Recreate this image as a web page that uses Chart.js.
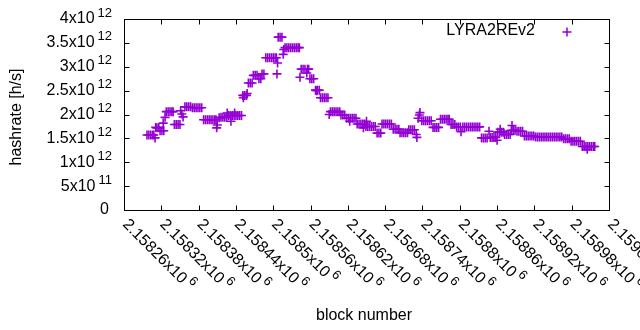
<!DOCTYPE html>
<html><head><meta charset="utf-8">
<script src="https://cdn.jsdelivr.net/npm/chart.js@4/dist/chart.umd.min.js"></script>
<style>html,body{margin:0;padding:0;background:#fff}canvas{display:block}</style>
</head><body>
<canvas id="c" width="640" height="330"></canvas>
<script>
const seriesLabel = "LYRA2REv2";
const xTitle = "block number";
const yTitle = "hashrate [h/s]";

const blocks = [
  2158297,2158300,2158303,2158306,2158308,2158310,
  2158311,2158313,2158316,
  2158318,2158321,2158324,
  2158323,2158326,
  2158328,2158331,2158334,2158337,2158339,
  2158341,2158344,2158347,2158350,
  2158351,2158353,2158355,
  2158358,2158361,2158364,2158367,2158370,2158373,2158376,2158379,2158382,2158385,
  2158388,2158391,2158394,2158397,2158400,2158403,2158406,2158408,
  2158409,2158410,
  2158413,2158416,2158419,2158422,2158425,
  2158426,2158428,2158431,2158432,2158434,2158437,2158438,2158440,2158443,2158446,2158449,
  2158451,2158452,2158454,2158457,2158458,
  2158460,2158463,2158466,
  2158468,2158471,2158474,
  2158477,2158480,
  2158482,2158485,
  2158488,2158491,2158494,2158497,2158500,2158503,2158505,
  2158506,2158507,
  2158508,2158511,2158514,
  2158516,2158517,
  2158519,2158522,2158525,2158528,2158531,2158534,2158537,2158540,2158542,
  2158543,
  2158545,2158548,2158551,2158554,2158555,2158557,
  2158559,2158562,2158565,
  2158568,2158570,2158571,2158574,
  2158576,2158579,2158582,2158585,2158588,
  2158590,2158592,2158595,2158598,2158601,2158604,2158607,
  2158609,2158612,2158615,
  2158618,2158621,2158623,2158624,2158627,2158630,2158633,
  2158635,2158638,2158641,2158644,2158645,2158647,
  2158649,2158650,2158652,2158655,2158658,2158661,2158664,
  2158667,2158670,2158673,
  2158675,2158678,2158681,2158684,2158687,2158690,
  2158693,2158696,2158699,2158702,
  2158704,2158707,2158710,2158713,2158716,
  2158718,2158721,2158724,2158727,
  2158730,2158731,2158733,2158735,2158736,
  2158739,2158742,2158745,2158748,2158751,2158754,
  2158757,2158760,2158763,2158766,
  2158769,2158772,2158775,2158778,2158781,2158783,
  2158786,2158789,2158792,
  2158795,2158798,2158801,2158802,
  2158805,2158808,2158811,2158814,2158817,2158820,2158823,2158826,2158829,2158832,
  2158835,2158838,2158841,2158844,
  2158847,
  2158849,2158852,2158855,2158858,2158860,
  2158861,2158864,2158865,2158867,2158870,
  2158872,2158875,2158878,2158881,
  2158883,2158884,2158886,2158889,
  2158892,2158895,2158898,2158901,
  2158904,2158907,2158910,2158913,2158916,2158919,
  2158922,2158925,2158928,2158931,2158934,2158937,2158940,2158943,2158946,2158949,2158952,2158955,2158958,2158961,2158964,
  2158967,2158970,2158973,2158976,
  2158979,2158982,2158985,2158988,2158991,2158994,
  2158997,2159000,2159003,2159005,2159006,2159009,2159012,2159015,2159017
];

const hashrate = [
  1.57e12,1.57e12,1.57e12,1.57e12,1.57e12,1.51e12,
  1.73e12,1.72e12,1.72e12,
  1.66e12,1.66e12,1.66e12,
  1.82e12,1.94e12,
  2.06e12,2.06e12,2.06e12,2.06e12,2.06e12,
  1.79e12,1.79e12,1.79e12,1.79e12,
  2.08e12,2.01e12,1.95e12,
  2.16e12,2.16e12,2.16e12,2.16e12,2.14e12,2.14e12,2.14e12,2.14e12,2.14e12,2.14e12,
  1.89e12,1.89e12,1.89e12,1.89e12,1.89e12,1.89e12,1.89e12,1.89e12,
  1.72e12,1.78e12,
  1.93e12,1.94e12,1.94e12,1.94e12,1.94e12,
  2.03e12,1.98e12,1.98e12,1.86e12,1.98e12,1.98e12,2.03e12,1.98e12,1.98e12,1.98e12,1.98e12,
  2.40e12,2.35e12,2.40e12,2.40e12,2.44e12,
  2.66e12,2.66e12,2.66e12,
  2.82e12,2.82e12,2.82e12,
  2.75e12,2.75e12,
  2.85e12,2.85e12,
  3.19e12,3.19e12,3.19e12,3.19e12,3.19e12,3.19e12,3.19e12,
  2.85e12,3.08e12,
  3.62e12,3.62e12,3.62e12,
  3.26e12,3.36e12,
  3.40e12,3.40e12,3.40e12,3.40e12,3.40e12,3.40e12,3.40e12,3.40e12,3.40e12,
  2.78e12,
  2.95e12,2.95e12,2.95e12,2.87e12,2.95e12,2.95e12,
  2.75e12,2.75e12,2.75e12,
  2.51e12,2.50e12,2.51e12,2.51e12,
  2.35e12,2.35e12,2.35e12,2.35e12,2.35e12,
  2.00e12,2.06e12,2.06e12,2.06e12,2.06e12,2.06e12,2.06e12,
  1.99e12,1.99e12,1.99e12,
  1.92e12,1.92e12,1.86e12,1.92e12,1.92e12,1.92e12,1.92e12,
  1.80e12,1.80e12,1.80e12,1.80e12,1.72e12,1.80e12,
  1.75e12,1.86e12,1.75e12,1.75e12,1.75e12,1.75e12,1.75e12,
  1.61e12,1.61e12,1.61e12,
  1.80e12,1.80e12,1.80e12,1.80e12,1.80e12,1.80e12,
  1.69e12,1.69e12,1.69e12,1.69e12,
  1.62e12,1.62e12,1.62e12,1.62e12,1.62e12,
  1.68e12,1.68e12,1.68e12,1.68e12,
  1.58e12,1.52e12,1.92e12,1.99e12,2.04e12,
  1.87e12,1.87e12,1.87e12,1.87e12,1.87e12,1.87e12,
  1.73e12,1.73e12,1.73e12,1.73e12,
  1.90e12,1.90e12,1.90e12,1.90e12,1.90e12,1.90e12,
  1.79e12,1.79e12,1.79e12,
  1.74e12,1.74e12,1.74e12,1.64e12,
  1.74e12,1.74e12,1.74e12,1.74e12,1.74e12,1.74e12,1.74e12,1.74e12,1.74e12,1.74e12,
  1.51e12,1.51e12,1.51e12,1.51e12,
  1.65e12,
  1.52e12,1.52e12,1.52e12,1.52e12,1.46e12,
  1.63e12,1.63e12,1.69e12,1.63e12,1.63e12,
  1.58e12,1.58e12,1.58e12,1.58e12,
  1.67e12,1.77e12,1.67e12,1.67e12,
  1.65e12,1.65e12,1.65e12,1.65e12,
  1.55e12,1.55e12,1.55e12,1.55e12,1.55e12,1.55e12,
  1.53e12,1.53e12,1.53e12,1.53e12,1.53e12,1.53e12,1.53e12,1.53e12,1.53e12,1.53e12,1.53e12,1.53e12,1.53e12,1.53e12,1.53e12,
  1.49e12,1.49e12,1.49e12,1.49e12,
  1.44e12,1.44e12,1.44e12,1.44e12,1.44e12,1.44e12,
  1.33e12,1.33e12,1.33e12,1.27e12,1.33e12,1.33e12,1.33e12,1.33e12,1.33e12
];

const xTickValues = [2158260,2158320,2158380,2158440,2158500,2158560,2158620,2158680,2158740,2158800,2158860,2158920,2158980,2159040];
const xTickLabels = ["2.15826x10^6","2.15832x10^6","2.15838x10^6","2.15844x10^6","2.1585x10^6","2.15856x10^6","2.15862x10^6","2.15868x10^6","2.15874x10^6","2.1588x10^6","2.15886x10^6","2.15892x10^6","2.15898x10^6","2.15904x10^6"];
const yTickValues = [0,5e11,1e12,1.5e12,2e12,2.5e12,3e12,3.5e12,4e12];
const yTickLabels = ["0","5x10^11","1x10^12","1.5x10^12","2x10^12","2.5x10^12","3x10^12","3.5x10^12","4x10^12"];

const COLOR = '#9400D3';
const FONT = '"Liberation Sans", Arial, sans-serif';
const MAIN = '16px ' + FONT;
const SUP = '13px ' + FONT;

function drawLabel(ctx, s, x, y, align) {
  const i = s.indexOf('^');
  const b = i < 0 ? s : s.slice(0, i);
  const e = i < 0 ? '' : s.slice(i + 1);
  ctx.font = MAIN; const wb = ctx.measureText(b).width;
  ctx.font = SUP; const we = e ? ctx.measureText(e).width : 0;
  const gap = e ? 3 : 0;
  const total = wb + gap + we;
  const x0 = align === 'right' ? x - total : x;
  ctx.textAlign = 'left'; ctx.textBaseline = 'middle';
  ctx.font = MAIN; ctx.fillText(b, x0, y);
  if (e) { ctx.font = SUP; ctx.fillText(e, x0 + wb + gap, y - 6); }
}

const frame = {
  id: 'frame',
  afterDraw(chart) {
    const ctx = chart.ctx, a = chart.chartArea, xs = chart.scales.x, ys = chart.scales.y;
    ctx.save();
    ctx.strokeStyle = '#000'; ctx.lineWidth = 1;
    const L = Math.round(a.left) + 0.5, R = Math.round(a.right) + 0.5;
    const T = Math.round(a.top) + 0.5, B = Math.round(a.bottom) + 0.5;
    ctx.strokeRect(L, T, R - L, B - T);
    const tl = 5;
    ctx.beginPath();
    xTickValues.forEach(v => {
      const px = Math.round(xs.getPixelForValue(v)) + 0.5;
      ctx.moveTo(px, B); ctx.lineTo(px, B - tl);
      ctx.moveTo(px, T); ctx.lineTo(px, T + tl);
    });
    yTickValues.forEach(v => {
      const py = Math.round(ys.getPixelForValue(v)) + 0.5;
      ctx.moveTo(L, py); ctx.lineTo(L + tl, py);
      ctx.moveTo(R, py); ctx.lineTo(R - tl, py);
    });
    ctx.stroke();

    ctx.fillStyle = '#000';
    yTickValues.forEach((v, i) => {
      drawLabel(ctx, yTickLabels[i], i === 0 ? 109 : 112, ys.getPixelForValue(v), 'right');
    });
    xTickValues.forEach((v, i) => {
      const px = xs.getPixelForValue(v);
      ctx.save();
      ctx.translate(px + 1, 222);
      ctx.rotate(Math.PI / 4);
      drawLabel(ctx, xTickLabels[i], 0, 0, 'left');
      ctx.restore();
    });

    ctx.font = MAIN; ctx.textAlign = 'center'; ctx.textBaseline = 'middle';
    ctx.fillText(xTitle, 364, 316);
    ctx.save();
    ctx.translate(17, 117); ctx.rotate(-Math.PI / 2);
    ctx.fillText(yTitle, 0, 0);
    ctx.restore();

    // key
    ctx.textAlign = 'right';
    ctx.fillText(chart.data.datasets[0].label, 535, 31);
    ctx.strokeStyle = COLOR; ctx.lineWidth = 1.5;
    ctx.beginPath();
    ctx.moveTo(562.5, 32); ctx.lineTo(571.5, 32);
    ctx.moveTo(567, 27.5); ctx.lineTo(567, 36.5);
    ctx.stroke();
    ctx.restore();
  }
};

new Chart(document.getElementById('c'), {
  type: 'scatter',
  data: {
    datasets: [{
      label: seriesLabel,
      data: blocks.map((b, i) => ({ x: b, y: hashrate[i] })),
      pointStyle: 'cross',
      pointRadius: 4.5,
      pointHoverRadius: 4.5,
      borderColor: COLOR,
      backgroundColor: COLOR,
      pointBorderWidth: 1.6,
      showLine: false
    }]
  },
  options: {
    responsive: false,
    animation: false,
    devicePixelRatio: 1,
    events: [],
    layout: { padding: { left: 124, right: 31, top: 19, bottom: 120 } },
    plugins: { legend: { display: false }, tooltip: { enabled: false } },
    scales: {
      x: { type: 'linear', display: false, min: 2158260, max: 2159040 },
      y: { type: 'linear', display: false, min: 0, max: 4e12 }
    }
  },
  plugins: [frame]
});
</script>
</body></html>
